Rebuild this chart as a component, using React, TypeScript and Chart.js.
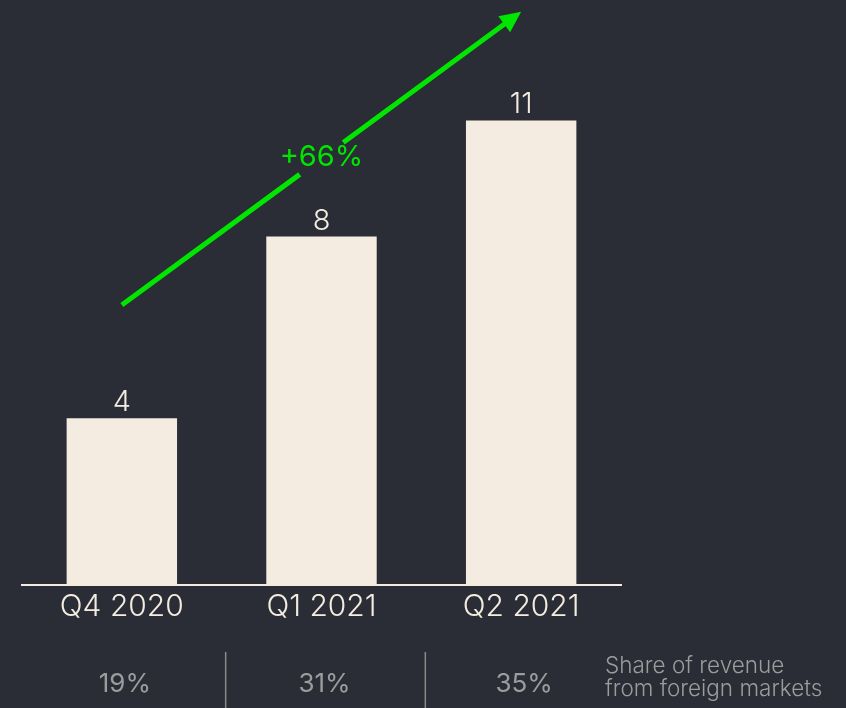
import React, { useEffect, useRef } from "react";
import { Chart, registerables } from "chart.js";

Chart.register(...registerables);

const categories = ["Q4 2020", "Q1 2021", "Q2 2021"];
const revenue = [3.95, 8.25, 11];
const valueLabels = ["4", "8", "11"];
const foreignShare = ["19%", "31%", "35%"];
const shareCaption = ["Share of revenue", "from foreign markets"];
const growthLabel = "+66%";
// arrow endpoints in data space: [category index, value]
const arrowStart = [0, 6.63];
const arrowEnd = [2, 13.57];

const BG = "#2a2d35";
const BAR = "#f4ece0";
const GREEN = "#00e600";
const GREY = "#9c9c9c";
const FONT = "Inter, 'Noto Sans', sans-serif";

const overlayPlugin = {
  id: "overlay",
  afterDatasetsDraw(chart: any) {
    const ctx = chart.ctx;
    const x = chart.scales.x;
    const y = chart.scales.y;
    const meta = chart.getDatasetMeta(0);
    ctx.save();
    // value labels
    ctx.fillStyle = BAR;
    ctx.font = `300 29px ${FONT}`;
    ctx.textAlign = "center";
    ctx.textBaseline = "alphabetic";
    meta.data.forEach((bar: any, i: number) => {
      ctx.fillText(valueLabels[i], bar.x, bar.y - 7);
    });

    // arrow
    const x0 = x.getPixelForValue(arrowStart[0]);
    const y0 = y.getPixelForValue(arrowStart[1]);
    const x1 = x.getPixelForValue(arrowEnd[0]);
    const y1 = y.getPixelForValue(arrowEnd[1]);
    const dx = x1 - x0;
    const dy = y1 - y0;
    const len = Math.sqrt(dx * dx + dy * dy);
    const ux = dx / len;
    const uy = dy / len;
    const mx = (x0 + x1) / 2;
    const my = (y0 + y1) / 2;
    const gap = 27;
    const headLen = 21;
    const headW = 10;
    ctx.strokeStyle = GREEN;
    ctx.lineWidth = 5;
    ctx.lineCap = "butt";
    ctx.beginPath();
    ctx.moveTo(x0, y0);
    ctx.lineTo(mx - ux * gap, my - uy * gap);
    ctx.moveTo(mx + ux * gap, my + uy * gap);
    ctx.lineTo(x1 - ux * (headLen - 2), y1 - uy * (headLen - 2));
    ctx.stroke();
    ctx.fillStyle = GREEN;
    ctx.beginPath();
    ctx.moveTo(x1, y1);
    const bx = x1 - ux * headLen;
    const by = y1 - uy * headLen;
    ctx.lineTo(bx - uy * headW, by + ux * headW);
    ctx.lineTo(bx + uy * headW, by - ux * headW);
    ctx.closePath();
    ctx.fill();
    ctx.font = `400 29px ${FONT}`;
    ctx.textBaseline = "middle";
    ctx.fillText(growthLabel, mx, my - 1);

    // bottom row
    ctx.fillStyle = GREY;
    ctx.font = `400 26px ${FONT}`;
    ctx.textBaseline = "alphabetic";
    ctx.textAlign = "center";
    foreignShare.forEach((t, i) => {
      ctx.fillText(t, x.getPixelForValue(i) + 3, 692);
    });
    ctx.strokeStyle = "#8a8a8a";
    ctx.lineWidth = 1.5;
    for (let i = 0; i < foreignShare.length - 1; i++) {
      const sx = (x.getPixelForValue(i) + x.getPixelForValue(i + 1)) / 2 + 4;
      ctx.beginPath();
      ctx.moveTo(sx, 652);
      ctx.lineTo(sx, 708);
      ctx.stroke();
    }
    ctx.font = `300 22.5px ${FONT}`;
    ctx.textAlign = "left";
    ctx.fillText(shareCaption[0], 605, 673);
    ctx.fillText(shareCaption[1], 605, 696);
    ctx.restore();
  },
};

export default function App() {
  const ref = useRef<HTMLCanvasElement>(null);
  useEffect(() => {
    document.body.style.margin = "0";
    document.body.style.background = BG;
    const chart = new Chart(ref.current!, {
      type: "bar",
      data: {
        labels: categories,
        datasets: [
          {
            data: revenue,
            backgroundColor: BAR,
            borderWidth: 0,
            barPercentage: 0.553,
            categoryPercentage: 1,
          },
        ],
      },
      options: {
        animation: false,
        responsive: false,
        maintainAspectRatio: false,
        layout: { padding: { left: 22, right: 225, top: 0, bottom: 79 } },
        plugins: { legend: { display: false }, tooltip: { enabled: false } },
        scales: {
          x: {
            grid: { display: false, drawTicks: false },
            border: { display: true, color: BAR, width: 2 },
            ticks: {
              color: BAR,
              font: { family: FONT, size: 30, weight: 300 as any },
              padding: 4,
            },
          },
          y: {
            display: false,
            min: 0,
            max: 13.85,
          },
        },
      },
      plugins: [overlayPlugin],
    });
    return () => chart.destroy();
  }, []);
  return (
    <div style={{ position: "fixed", left: 0, top: 0, width: 846, height: 708, background: BG }}>
      <canvas ref={ref} width={846} height={708} style={{ width: 846, height: 708 }} />
    </div>
  );
}
